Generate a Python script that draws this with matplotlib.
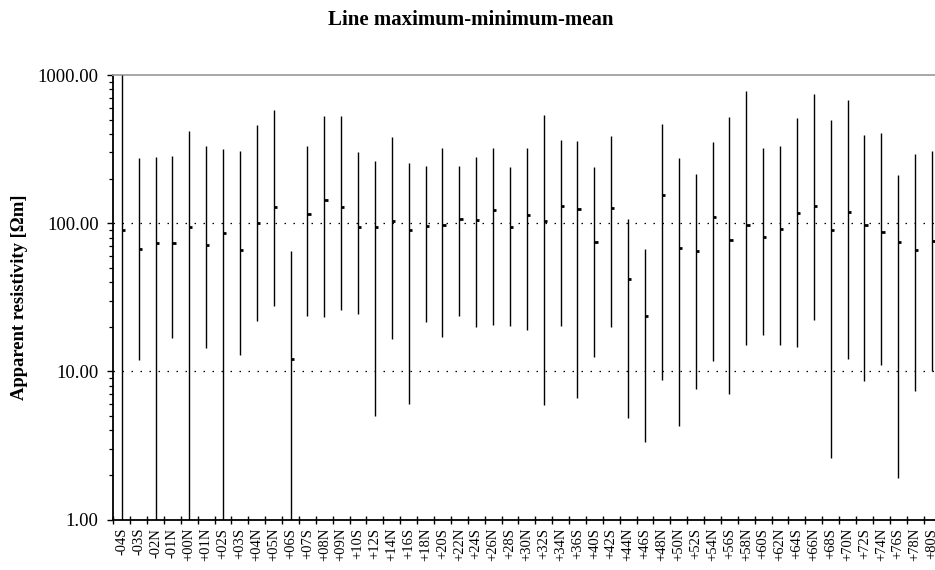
import matplotlib
matplotlib.use("Agg")
import matplotlib.pyplot as plt
from matplotlib.ticker import FixedLocator, NullFormatter, FuncFormatter
import numpy as np

plt.rcParams['font.family'] = ['Liberation Serif', 'DejaVu Serif']

lines = ["-04S", "-03S", "-02N", "-01N", "+00N", "+01N", "+02S", "+03S", "+04N",
         "+05N", "+06S", "+07S", "+08N", "+09N", "+10S", "+12S", "+14N", "+16S",
         "+18N", "+20S", "+22N", "+24S", "+26N", "+28S", "+30N", "+32S", "+34N",
         "+36S", "+40S", "+42S", "+44N", "+46S", "+48N", "+50N", "+52S", "+54N",
         "+56S", "+58N", "+60S", "+62N", "+64S", "+66N", "+68S", "+70N", "+72S",
         "+74N", "+76S", "+78N", "+80S"]

rho_max = [1000, 277, 281, 283, 419, 334, 319, 306, 460,
           581, 65, 332, 529, 529, 301, 263, 382, 253,
           244, 321, 242, 279, 321, 239, 324, 535, 365,
           359, 239, 386, 106, 66.8, 465, 274, 215, 353,
           524, 780, 322, 331, 515, 741, 500, 678, 396,
           405, 210, 295, 309]

rho_min = [0.5, 12.0, 0.5, 16.9, 0.5, 14.4, 0.5, 12.9, 21.9,
           27.4, 0.5, 23.7, 23.2, 25.8, 24.5, 5.0, 16.5, 6.0,
           21.4, 17.1, 23.6, 19.9, 20.7, 20.3, 19.1, 5.96, 20.1,
           6.6, 12.4, 19.8, 4.85, 3.36, 8.7, 4.26, 7.6, 11.7,
           7.0, 15.1, 17.6, 15.1, 14.7, 22.3, 2.6, 12.2, 8.6,
           11.1, 1.91, 7.4, 10.0]

rho_mean = [90.2, 66.8, 73.3, 73.0, 93.5, 71.0, 85.2, 66.0, 101,
            128, 12.2, 116, 143, 128, 93.5, 93.5, 104, 90.6,
            96.4, 97.5, 106, 105, 123, 93.5, 113, 104, 131,
            125, 74.8, 126, 42.0, 23.8, 155, 68.5, 65.1, 110,
            77.3, 97.0, 80.5, 91.5, 117, 131, 90.6, 119, 97.0,
            87.8, 74.8, 66.0, 75.7]

y_ticks = [1, 10, 100, 1000]

W, H = 935, 570
fig = plt.figure(figsize=(W / 100, H / 100), dpi=100)

# axes box in pixels: left edge 113, bottom at y=519.5, top at y=75;
# the category band runs past the right edge of the figure
left_px, right_px = 113.3, 113.3 + 49 * 16.88
top_px, bot_px = 75.0, 519.5
ax = fig.add_axes([left_px / W, 1 - bot_px / H,
                   (right_px - left_px) / W, (bot_px - top_px) / H])

x = np.arange(len(lines))

ax.set_yscale('log')
ax.set_ylim(1, 1000)
ax.set_xlim(-0.5, len(lines) - 0.5)

# dotted reference lines at inner decades
for yv in y_ticks[1:-1]:
    ax.axhline(yv, color='black', lw=0.9, linestyle=(0, (1.2, 6.0)), zorder=1)

# range bars and mean marks
ax.vlines(x, rho_min, rho_max, color='black', lw=1.0, zorder=3)
ax.hlines(rho_mean, x, x + 0.19, color='black', lw=2.0, zorder=4)

# spines
for s in ['left', 'bottom']:
    ax.spines[s].set_linewidth(1.3)
    ax.spines[s].set_color('black')
ax.spines['right'].set_visible(False)
ax.spines['top'].set_color('#a0a0a0')
ax.spines['top'].set_linewidth(1.3)

# y axis ticks
ax.yaxis.set_major_locator(FixedLocator(y_ticks))
ax.yaxis.set_major_formatter(FuncFormatter(lambda v, p: f"{v:.2f}"))
minor = [m * 10 ** d for d in range(0, 3) for m in range(2, 10)]
ax.yaxis.set_minor_locator(FixedLocator(minor))
ax.yaxis.set_minor_formatter(NullFormatter())
ax.tick_params(axis='y', which='major', direction='out', length=4.0, width=1.0,
               labelsize=13.5, pad=6.5, right=False)
ax.tick_params(axis='y', which='minor', direction='out', length=3.0, width=0.9,
               right=False)

# x axis: boundary ticks crossing the axis, labels at category centres
ax.xaxis.set_major_locator(FixedLocator(np.arange(len(lines) + 1) - 0.5))
ax.xaxis.set_major_formatter(NullFormatter())
ax.xaxis.set_minor_locator(FixedLocator(x))
ax.xaxis.set_minor_formatter(FuncFormatter(lambda v, p: lines[int(round(v))]))
ax.tick_params(axis='x', which='major', direction='inout', length=6.0, width=1.0,
               top=False)
ax.tick_params(axis='x', which='minor', length=0, labelsize=10.5, pad=6,
               labelrotation=90, top=False)

ax.set_facecolor('white')

fig.text(470.5 / W, 1 - 20 / H, "Line maximum-minimum-mean", ha='center', va='center',
         fontsize=15, fontweight='bold')
fig.text(19.5 / W, 1 - 297.5 / H, "Apparent resistivity [\u03a9m]", ha='center',
         va='center', rotation=90, fontsize=13.4, fontweight='bold')

fig.savefig("out.png", dpi=100)
